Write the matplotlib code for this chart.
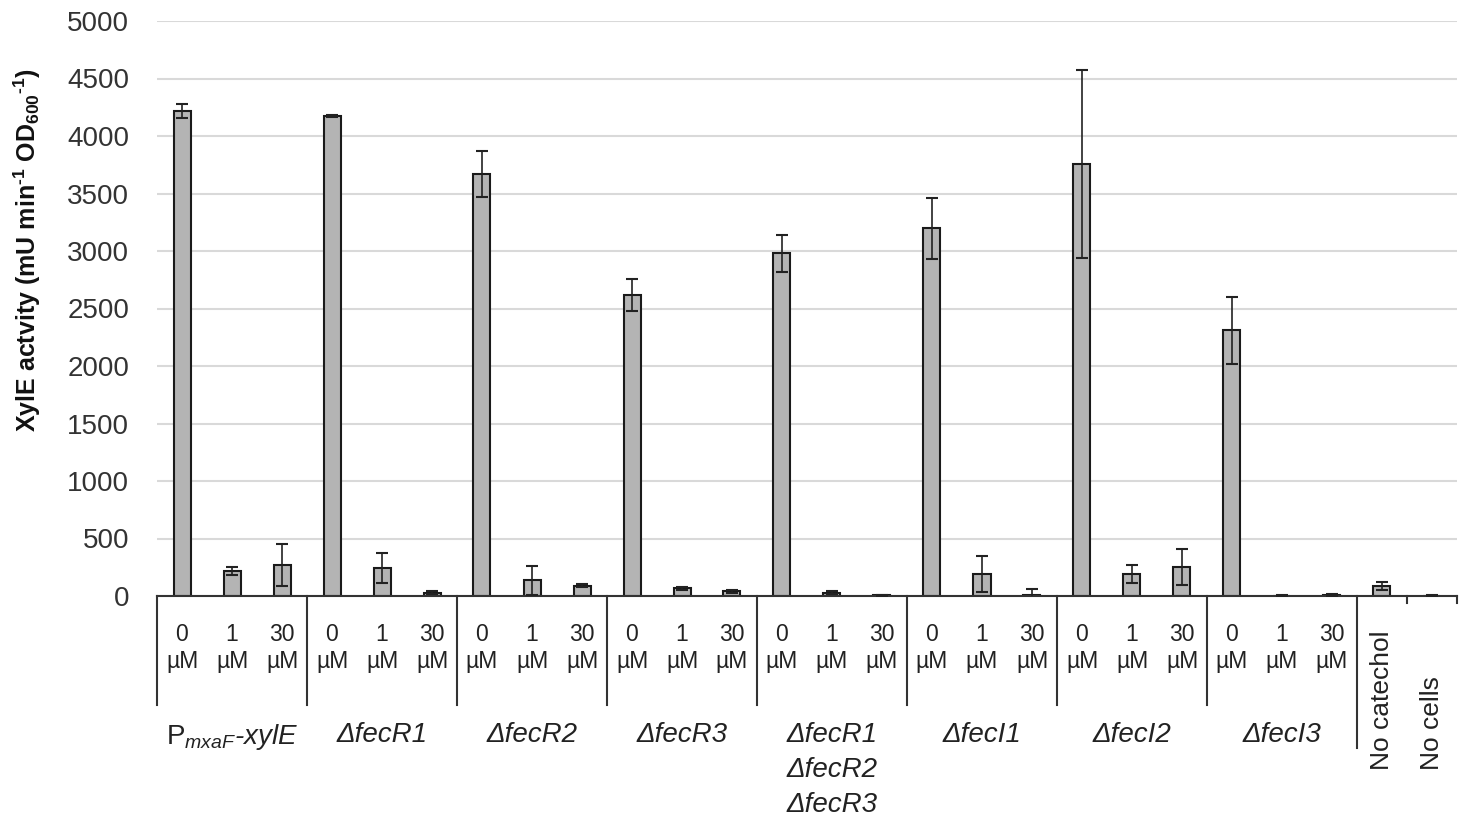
import matplotlib
matplotlib.use("Agg")
import matplotlib.pyplot as plt
import numpy as np

plt.rcParams["font.family"] = ["Liberation Sans", "DejaVu Sans"]
plt.rcParams["mathtext.fontset"] = "custom"
plt.rcParams["mathtext.rm"] = "Liberation Sans"
plt.rcParams["mathtext.it"] = "Liberation Sans:italic"
plt.rcParams["mathtext.bf"] = "Liberation Sans:bold"
plt.rcParams["mathtext.default"] = "regular"

# strains, each measured at three catechol concentrations
strains = [r"$\mathrm{P}_{mxaF}$-xylE", "ΔfecR1", "ΔfecR2", "ΔfecR3",
           "ΔfecR1\nΔfecR2\nΔfecR3", "ΔfecI1", "ΔfecI2", "ΔfecI3"]
conc_labels = ["0\nµM", "1\nµM", "30\nµM"]
controls = ["No catechol", "No cells"]

# XylE activity (mU min-1 OD600-1): rows = strains, cols = 0 / 1 / 30 µM
activity = [
    [4220, 220, 270],
    [4175, 245, 30],
    [3670, 136, 90],
    [2615, 67, 40],
    [2980, 30, 5],
    [3196, 191, 5],
    [3756, 195, 255],
    [2310, 3, 8],
]
activity_err = [
    [60, 35, 180],
    [8, 130, 10],
    [200, 125, 12],
    [140, 12, 15],
    [160, 10, 5],
    [265, 155, 60],
    [820, 78, 158],
    [290, 3, 8],
]
control_activity = [87, 3]
control_err = [35, 3]

values = [v for row in activity for v in row] + control_activity
errors = [e for row in activity_err for e in row] + control_err
x = np.arange(len(values))

fig = plt.figure(figsize=(14.68, 8.18), dpi=100)
ax = fig.add_axes([157 / 1468, 222 / 818, 1300 / 1468, 575 / 818])

ax.bar(x, values, width=0.34, color="#b4b4b4", edgecolor="#1a1a1a", linewidth=1.5, zorder=2)
ax.errorbar(x, values, yerr=errors, fmt="none", ecolor="#222222", elinewidth=1.2,
            capsize=4, capthick=1.5, zorder=3)

ax.set_xlim(-0.5, len(values) - 0.5)
ax.set_ylim(0, 5000)
ax.set_yticks(np.arange(0, 5001, 500))
ax.tick_params(axis="y", length=0, pad=20, labelsize=20, labelcolor="#333333")
ax.set_xticks([])
ax.yaxis.grid(True, color="#d9d9d9", linewidth=1.5)
ax.set_axisbelow(True)
for side in ["left", "right", "top"]:
    ax.spines[side].set_visible(False)
ax.spines["bottom"].set_linewidth(1.5)
ax.spines["bottom"].set_color("#333333")

trans = ax.get_xaxis_transform()
px = 1 / 575  # one pixel in axes fraction (vertical)

# concentration labels under each bar
for i in range(len(strains) * 3):
    ax.text(i, -(648 - 596) * px, conc_labels[i % 3], transform=trans, ha="center",
            va="center", fontsize=16.5, linespacing=1.25, color="#222222")

# strain names under each group
for g, name in enumerate(strains):
    ax.text(3 * g + 1, -(722 - 596) * px, name, transform=trans, ha="center", va="top",
            fontsize=20, style="italic", linespacing=1.45, color="#222222")

# control labels, rotated
for k, name in enumerate(controls):
    ax.text(24 + k, -(770 - 596) * px, name, transform=trans, ha="center", va="bottom",
            rotation=90, fontsize=19, color="#222222")

# group separators below the axis
for g in range(len(strains) + 1):
    xs = 3 * g - 0.5
    bottom = -(748 - 596) * px if g == len(strains) else -(705 - 596) * px
    ax.plot([xs, xs], [0, bottom], transform=trans, color="#333333", lw=1.5, clip_on=False)
for xs in [24.5, 25.5]:
    ax.plot([xs, xs], [0, -7 * px], transform=trans, color="#333333", lw=1.5, clip_on=False)

fig.text(27 / 1468, 1 - 250 / 818,
         "XylE actvity (mU min$^{\u20101}$ OD$_{600}$$^{\u20101}$)",
         rotation=90, ha="center", va="center", fontsize=18, fontweight="bold", color="#111111")

fig.savefig("out.png", dpi=100, facecolor="white")
